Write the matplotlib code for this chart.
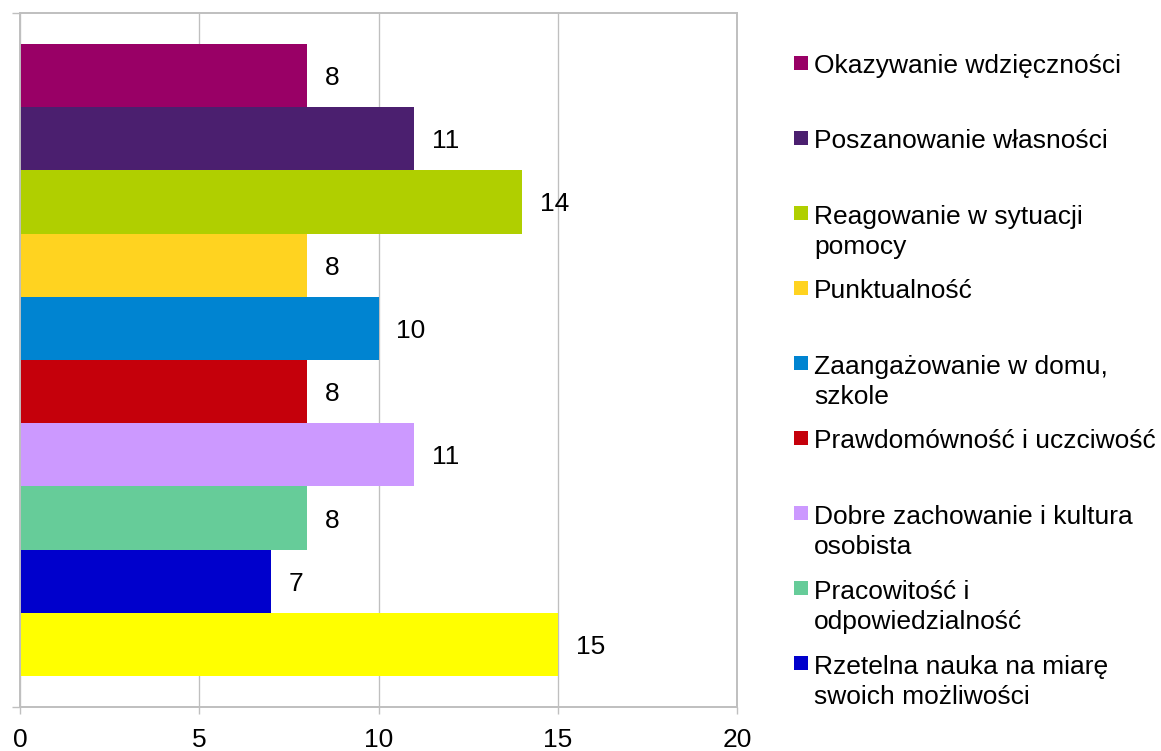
import matplotlib
matplotlib.use("Agg")
import matplotlib.pyplot as plt
from matplotlib.patches import Rectangle
import numpy as np

# data, top bar first
labels = ["Okazywanie wdzięczności", "Poszanowanie własności",
          "Reagowanie w sytuacji\npomocy", "Punktualność",
          "Zaangażowanie w domu,\nszkole", "Prawdomówność i uczciwość",
          "Dobre zachowanie i kultura\nosobista", "Pracowitość i\nodpowiedzialność",
          "Rzetelna nauka na miarę\nswoich możliwości", ""]  # last one not shown in legend
values = [8, 11, 14, 8, 10, 8, 11, 8, 7, 15]
colors = ["#990066", "#4B1F6F", "#B0CF00", "#FFD320", "#0084D1",
          "#C5000B", "#CC99FF", "#66CC99", "#0000CC", "#FFFF00"]
xticks = [0, 5, 10, 15, 20]

W, H = 1161, 751
GRID = "#BFBFBF"
FS = 19
plt.rcParams.update({"font.family": ["Liberation Sans", "DejaVu Sans"], "font.size": FS})

fig = plt.figure(figsize=(W / 100, H / 100), dpi=100)
ax = fig.add_axes([20 / W, 1 - 707 / H, (737 - 20) / W, (707 - 13) / H])

pos = np.arange(len(values))
ax.barh(pos, values, height=1.0, color=colors, zorder=2)
m = 0.49
ax.set_ylim(len(values) - 0.5 + m, -0.5 - m)
ax.set_xlim(0, 20)
ax.set_xticks(xticks)
ax.set_yticks([-0.5 - m, len(values) - 0.5 + m])
ax.set_yticklabels([])
ax.set_axisbelow(True)
ax.grid(axis="x", color=GRID, lw=0.95)
for s in ax.spines.values():
    s.set_color(GRID); s.set_linewidth(1.4)
ax.tick_params(axis="x", length=5, width=1.0, color=GRID, pad=10, labelsize=FS)
ax.tick_params(axis="y", length=6, width=1.0, color=GRID)

for p, v in zip(pos, values):
    ax.text(v + 0.5, p, str(v), va="center_baseline", ha="left", fontsize=FS)

# manual legend, evenly spaced entries (baseline = last line)
cap_half = 9.5
line_px = 32
for i, (lab, c) in enumerate(zip(labels, colors)):
    if not lab:
        continue
    yc = 63 + 75 * i
    n = lab.count("\n") + 1
    fig.add_artist(Rectangle((794 / W, 1 - (yc + 7) / H), 14 / W, 14 / H,
                             transform=fig.transFigure, color=c, lw=0))
    fig.text(814 / W, 1 - (yc + cap_half + (n - 1) * line_px) / H, lab,
             va="baseline", ha="left", fontsize=FS, linespacing=1.35)

fig.savefig("out.png", dpi=100)
